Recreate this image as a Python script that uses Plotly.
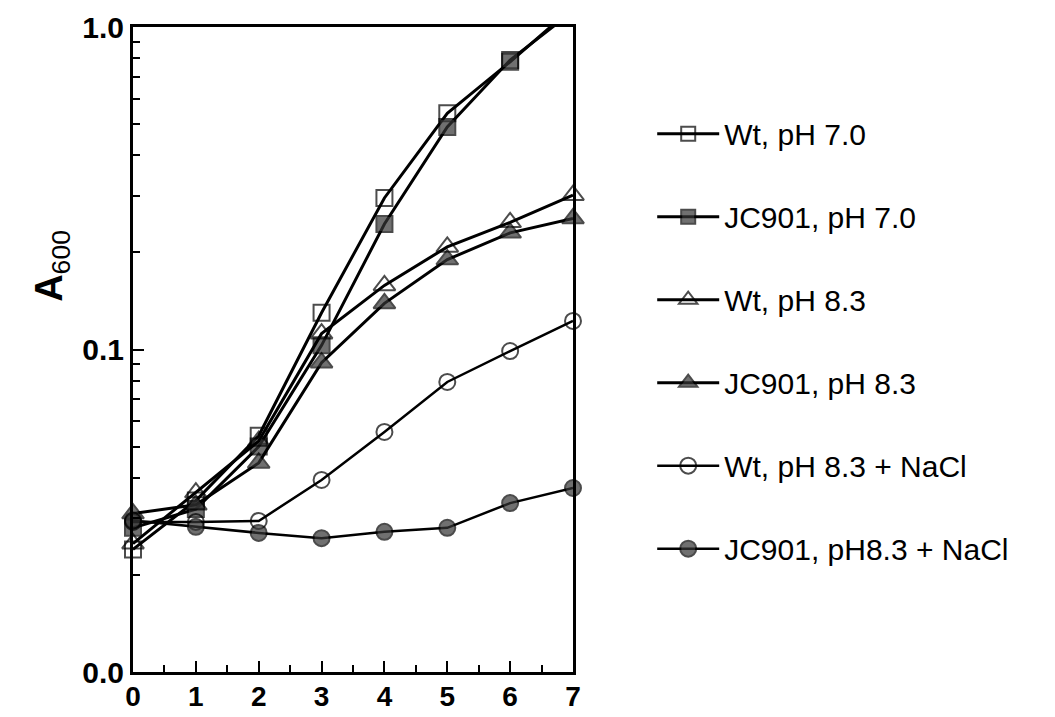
import plotly.graph_objects as go

# Time points (h) and optical density readings for each culture
hours = [0, 1, 2, 3, 4, 5, 6, 7]

wt_ph70 = [0.024, 0.034, 0.054, 0.130, 0.295, 0.540, 0.780, 1.15]
jc901_ph70 = [0.028, 0.032, 0.050, 0.103, 0.245, 0.490, 0.790, 1.12]
wt_ph83 = [0.025, 0.036, 0.052, 0.112, 0.158, 0.208, 0.248, 0.301]
jc901_ph83 = [0.031, 0.033, 0.0445, 0.091, 0.139, 0.190, 0.230, 0.255]
wt_ph83_nacl = [0.0292, 0.0292, 0.0294, 0.0394, 0.0555, 0.0793, 0.0989, 0.1226]
jc901_ph83_nacl = [0.0295, 0.0282, 0.0270, 0.0260, 0.0272, 0.0280, 0.0334, 0.0372]

series_names = [
    "Wt, pH 7.0",
    "JC901, pH 7.0",
    "Wt, pH 8.3",
    "JC901, pH 8.3",
    "Wt, pH 8.3 + NaCl",
    "JC901, pH8.3 + NaCl",
]

y_tick_vals = [0.01, 0.1, 1.0]
y_tick_text = ["0.0", "0.1", "1.0"]
x_tick_vals = [0, 1, 2, 3, 4, 5, 6, 7]

FONT = "Liberation Sans, Arial, Helvetica, sans-serif"
FILL = "#353535"

styles = [
    dict(symbol="square-open", color="black", size=16, lw=2, width=3),
    dict(symbol="square", color=FILL, size=16, lw=2, width=3),
    dict(symbol="triangle-up-open", color="black", size=19, lw=2, width=3),
    dict(symbol="triangle-up", color=FILL, size=19, lw=2, width=3),
    dict(symbol="circle-open", color="black", size=16, lw=2, width=2.5),
    dict(symbol="circle", color=FILL, size=16, lw=2, width=2.5),
]

all_series = [wt_ph70, jc901_ph70, wt_ph83, jc901_ph83, wt_ph83_nacl, jc901_ph83_nacl]

fig = go.Figure()
for i, (name, vals, st) in enumerate(zip(series_names, all_series, styles)):
    # hide markers that fall above the top of the axis
    sizes = [st["size"] if v <= 1.0 else 0 for v in vals]
    fig.add_trace(go.Scatter(
        x=hours, y=vals, name=name, mode="lines+markers",
        line=dict(color="black", width=st["width"]),
        marker=dict(symbol=st["symbol"], size=sizes, color=st["color"],
                    line=dict(color="black", width=st["lw"])),
        cliponaxis=False,
        legendgroup=f"g{i}",
    ))

minor_y = [k * 10 ** e for e in (-2, -1) for k in range(2, 10)]

fig.update_layout(
    width=1055, height=717,
    margin=dict(l=133, r=482, t=27, b=45, autoexpand=False),
    paper_bgcolor="white", plot_bgcolor="white",
    showlegend=True,
    legend=dict(
        x=1.18, xanchor="left", y=0.875, yanchor="top",
        font=dict(family=FONT, size=30, color="black"),
        itemwidth=62, tracegroupgap=41,
        bgcolor="rgba(0,0,0,0)",
        itemsizing="trace",
    ),
    font=dict(family=FONT, color="black"),
)

fig.update_xaxes(
    range=[0, 7], tickvals=x_tick_vals, automargin=False,
    ticks="inside", ticklen=11, tickwidth=2, tickcolor="black",
    minor=dict(tickvals=[h + 0.5 for h in hours[:-1]], ticks="inside",
               ticklen=7, tickwidth=2, tickcolor="black"),
    showline=True, linewidth=3, linecolor="black", mirror=True,
    showgrid=False, zeroline=False, ticklabelstandoff=-3,
    tickfont=dict(family=FONT, size=28, weight="bold", color="black"),
)

fig.update_yaxes(
    type="log", range=[-2, 0], automargin=False,
    tickvals=y_tick_vals, ticktext=y_tick_text,
    ticks="inside", ticklen=11, tickwidth=2, tickcolor="black",
    minor=dict(tickvals=minor_y, ticks="inside", ticklen=7,
               tickwidth=2, tickcolor="black"),
    showline=True, linewidth=3, linecolor="black", mirror=True,
    showgrid=False, zeroline=False,
    tickfont=dict(family=FONT, size=30, weight="bold", color="black"),
)

# y-axis title: A with subscript 600
fig.add_annotation(
    xref="paper", yref="paper", x=-0.245, y=0.63,
    text="<b>A</b><sub>600</sub>", textangle=-90,
    showarrow=False, font=dict(family=FONT, size=38, color="black"),
)

fig.write_html("out.html")
